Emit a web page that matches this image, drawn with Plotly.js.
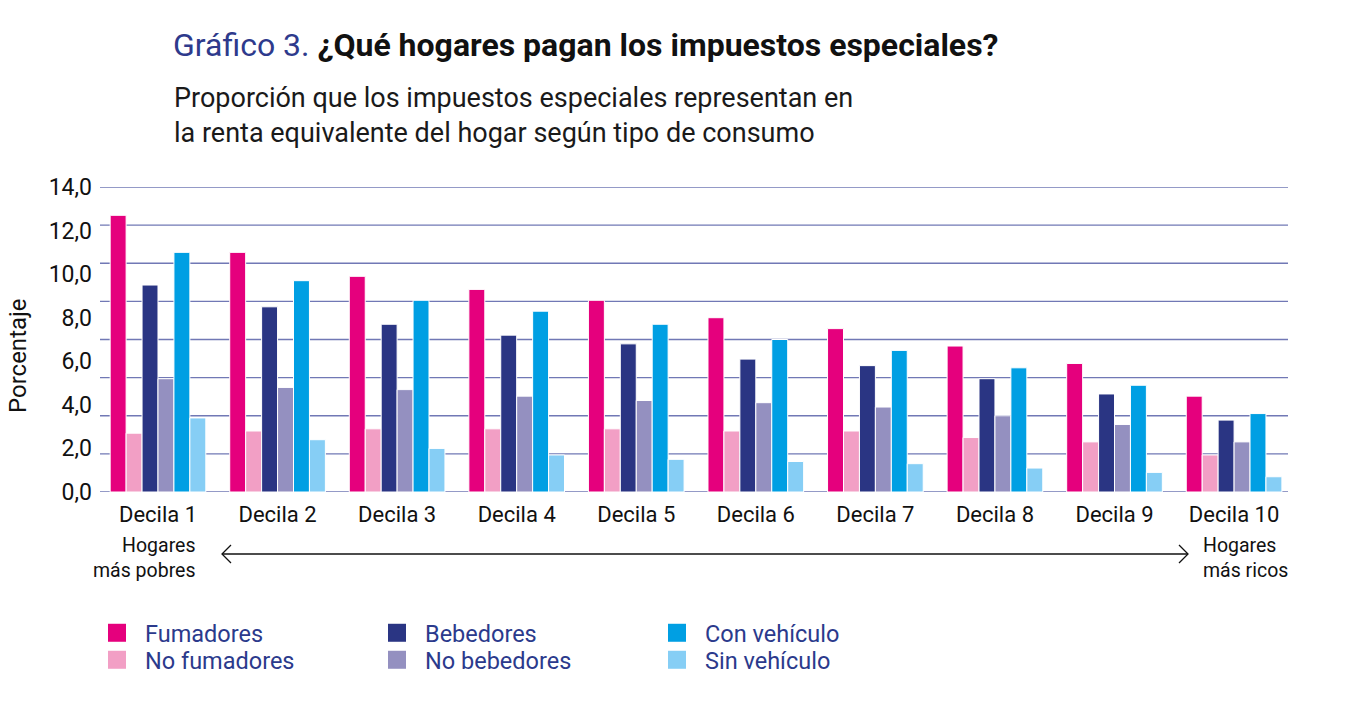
<!DOCTYPE html>
<html>
<head>
<meta charset="utf-8">
<script src="https://cdn.plot.ly/plotly-3.0.1.min.js"></script>
<style>html,body{margin:0;padding:0;background:#fff;}#chart{width:1346px;height:703px;}</style>
</head>
<body>
<div id="chart"></div>
<script>
const categories = ["Decila 1","Decila 2","Decila 3","Decila 4","Decila 5","Decila 6","Decila 7","Decila 8","Decila 9","Decila 10"];
const fumadores    = [12.7, 11.0, 9.9, 9.3, 8.8, 8.0, 7.5, 6.7, 5.9, 4.4];
const noFumadores  = [2.7, 2.8, 2.9, 2.9, 2.9, 2.8, 2.8, 2.5, 2.3, 1.7];
const bebedores    = [9.5, 8.5, 7.7, 7.2, 6.8, 6.1, 5.8, 5.2, 4.5, 3.3];
const noBebedores  = [5.2, 4.8, 4.7, 4.4, 4.2, 4.1, 3.9, 3.5, 3.1, 2.3];
const conVehiculo  = [11.0, 9.7, 8.8, 8.3, 7.7, 7.0, 6.5, 5.7, 4.9, 3.6];
const sinVehiculo  = [3.4, 2.4, 2.0, 1.7, 1.5, 1.4, 1.3, 1.1, 0.9, 0.7];
const yTickVals = [0, 2, 4, 6, 8, 10, 12, 14];
const yTickText = ["0,0","2,0","4,0","6,0","8,0","10,0","12,0","14,0"];
const gridVals = [0, 1.75, 3.5, 5.25, 7, 8.75, 10.5, 12.25, 14];

const FONT = "Roboto, 'Liberation Sans', Arial, sans-serif";
const INDIGO = "#2b3a8c";

function bar(name, y, color, legend, rank) {
  return {
    type: "bar", name: name, x: categories, y: y,
    marker: {color: color, line: {color: "#ffffff", width: 1}},
    legend: legend, legendrank: rank, hoverinfo: "x+y+name"
  };
}
const traces = [
  bar("Fumadores", fumadores, "#e5007d", "legend", 1),
  bar("No fumadores", noFumadores, "#f29fc5", "legend2", 4),
  bar("Bebedores", bebedores, "#2a3583", "legend", 2),
  bar("No bebedores", noBebedores, "#9490c0", "legend2", 5),
  bar("Con vehículo", conVehiculo, "#009fe3", "legend", 3),
  bar("Sin vehículo", sinVehiculo, "#86cef5", "legend2", 6)
];

// plot area: x 100..1288, y 187..492
const L = 100, R = 1288, T = 187, B = 492;
const px = v => (v - L) / (R - L);
const py = v => (B - v) / (B - T);

const gridShapes = gridVals.map(v => ({
  type: "line", xref: "paper", yref: "y", x0: 0, x1: 1, y0: v, y1: v,
  layer: "below", line: {color: "#7178b5", width: 1.3}
}));

const legendCommon = {
  orientation: "h", xanchor: "left", yanchor: "middle",
  font: {family: FONT, size: 23.5, color: INDIGO},
  entrywidth: 235, entrywidthmode: "pixels", traceorder: "normal",
  itemclick: false, itemdoubleclick: false, bgcolor: "rgba(0,0,0,0)"
};

const layout = {
  width: 1346, height: 703,
  margin: {l: L, r: 1346 - R, t: T, b: 703 - B},
  paper_bgcolor: "#ffffff", plot_bgcolor: "rgba(0,0,0,0)",
  font: {family: FONT, color: "#111111", size: 20},
  barmode: "group", bargap: 0.2, bargroupgap: 0,
  showlegend: true,
  title: {
    text: "<span style='color:#2e3a8c'>Gráfico 3.</span> <b>¿Qué hogares pagan los impuestos especiales?</b>",
    font: {family: FONT, size: 32, color: "#111111"},
    xref: "container", x: 173 / 1346, xanchor: "left",
    yref: "container", y: 1 - 45 / 703, yanchor: "middle"
  },
  xaxis: {
    type: "category", range: [-0.485, 9.451],
    showgrid: false, zeroline: false, showline: false, ticks: "",
    tickfont: {family: FONT, size: 22, color: "#111111"},
    ticklabelstandoff: 7, fixedrange: true
  },
  yaxis: {
    range: [0, 14], tickvals: yTickVals, ticktext: yTickText,
    showgrid: false, zeroline: false, showline: false, ticks: "",
    tickfont: {family: FONT, size: 23, color: "#111111"},
    ticklabelstandoff: 7,
    fixedrange: true
  },
  legend: Object.assign({x: px(105), y: py(633)}, legendCommon),
  legend2: Object.assign({x: px(105), y: py(660)}, legendCommon),
  annotations: [
    {
      text: "Proporción que los impuestos especiales representan en<br>la renta equivalente del hogar según tipo de consumo",
      xref: "paper", yref: "paper", x: px(172), y: py(115), xanchor: "left", yanchor: "middle",
      align: "left", showarrow: false, font: {family: FONT, size: 27, color: "#1a1a1a"}
    },
    {
      text: "Porcentaje", textangle: -90,
      xref: "paper", yref: "paper", x: px(18), y: py(356), xanchor: "center", yanchor: "middle",
      showarrow: false, font: {family: FONT, size: 24, color: "#111111"}
    },
    {
      text: "Hogares<br>más pobres",
      xref: "paper", yref: "paper", x: px(197), y: py(558), xanchor: "right", yanchor: "middle",
      align: "right", showarrow: false, font: {family: FONT, size: 19.5, color: "#111111"}
    },
    {
      text: "Hogares<br>más ricos",
      xref: "paper", yref: "paper", x: px(1201), y: py(558), xanchor: "left", yanchor: "middle",
      align: "left", showarrow: false, font: {family: FONT, size: 19.5, color: "#111111"}
    }
  ],
  shapes: gridShapes.concat([
    {type: "line", xref: "paper", yref: "paper", x0: px(222), x1: px(1188), y0: py(554), y1: py(554),
     line: {color: "#111111", width: 1.3}},
    {type: "path", xref: "paper", yref: "paper",
     path: `M ${px(231)},${py(545)} L ${px(222)},${py(554)} L ${px(231)},${py(563)}`,
     line: {color: "#111111", width: 1.3}},
    {type: "path", xref: "paper", yref: "paper",
     path: `M ${px(1179)},${py(545)} L ${px(1188)},${py(554)} L ${px(1179)},${py(563)}`,
     line: {color: "#111111", width: 1.3}}
  ])
};

function enlargeSwatches(gd) {
  gd.querySelectorAll("g.scrollbox").forEach(g => g.removeAttribute("clip-path"));
  gd.querySelectorAll("g.legendpoints path").forEach(p => {
    let bb;
    try { bb = p.getBBox(); } catch (e) { return; }
    if (!bb || bb.width < 4 || bb.height < 4) return;
    const cx = bb.x + bb.width / 2, cy = bb.y + bb.height / 2;
    const s = 18 / Math.max(bb.width, bb.height);
    p.setAttribute("transform",
      `translate(12,0) translate(${cx},${cy}) scale(${s}) translate(${-cx},${-cy})`);
    p.style.strokeWidth = "0";
  });
}

Plotly.newPlot("chart", traces, layout, {displayModeBar: false, responsive: false}).then(gd => {
  enlargeSwatches(gd);
  gd.on("plotly_afterplot", () => enlargeSwatches(gd));
  setTimeout(() => enlargeSwatches(gd), 300);
});
</script>
</body>
</html>
